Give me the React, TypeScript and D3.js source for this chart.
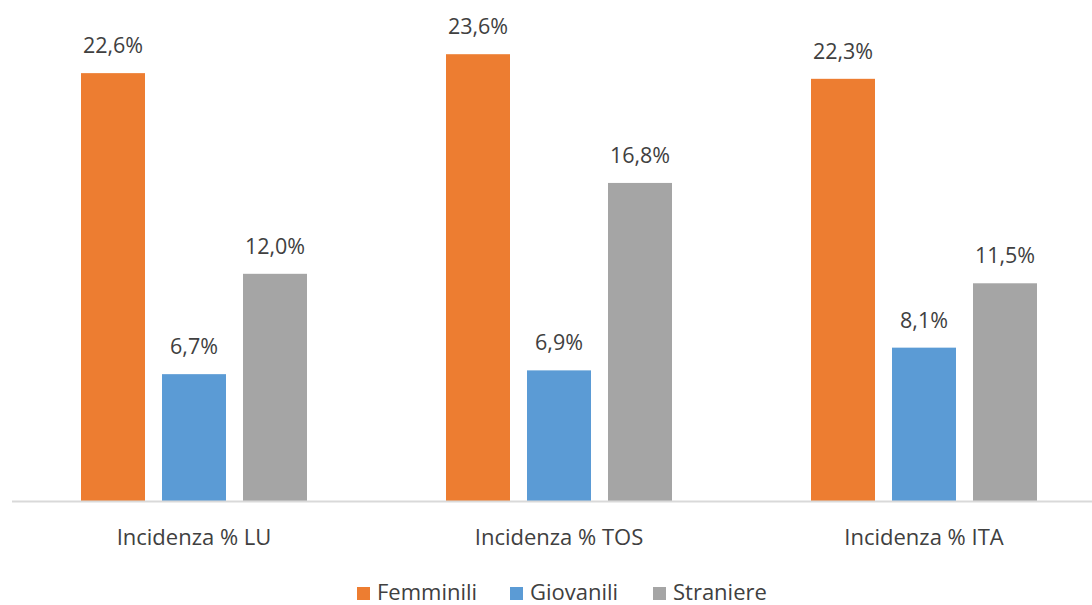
import React from "react";
import { scaleBand, scaleLinear } from "d3";

const categories = ["Incidenza % LU", "Incidenza % TOS", "Incidenza % ITA"];
const seriesNames = ["Femminili", "Giovanili", "Straniere"];
const femminili = [22.6, 23.6, 22.3];
const giovanili = [6.7, 6.9, 8.1];
const straniere = [12.0, 16.8, 11.5];
const colors = ["#ed7d31", "#5b9bd5", "#a5a5a5"];

const width = 1092;
const height = 605;
const font = "'Open Sans', 'Noto Sans', sans-serif";

const App = () => {
  const series = [femminili, giovanili, straniere];

  const xScale = scaleBand<string>()
    .domain(categories)
    .range([11.5, 11.5 + 365 * 3]);

  // 3 bars of 64px with 17px gaps
  const inner = scaleBand<string>()
    .domain(seriesNames)
    .range([69.5, 69.5 + 226])
    .paddingInner(17 / 81)
    .paddingOuter(0);

  const yScale = scaleLinear().domain([0, 25]).range([501, 27.7]);

  const legendX = [357, 510, 653];

  return (
    <svg
      width={width}
      height={height}
      style={{ position: "absolute", left: 0, top: 0, background: "#fff" }}
    >
      {categories.map((c, ci) => (
        <g key={c} transform={`translate(${xScale(c)},0)`}>
          {series.map((vals, si) => {
            const x = inner(seriesNames[si]) as number;
            const y = yScale(vals[ci]);
            return (
              <g key={si}>
                <rect
                  x={x}
                  y={y}
                  width={inner.bandwidth()}
                  height={yScale(0) - y}
                  fill={colors[si]}
                />
                <text
                  x={x + inner.bandwidth() / 2}
                  y={y - 20}
                  textAnchor="middle"
                  fontFamily={font}
                  fontSize={21.5}
                  fill="#404040"
                >
                  {vals[ci].toFixed(1).replace(".", ",")}%
                </text>
              </g>
            );
          })}
          <text
            x={xScale.bandwidth() / 2}
            y={545}
            textAnchor="middle"
            fontFamily={font}
            fontSize={22}
            fill="#404040"
          >
            {c}
          </text>
        </g>
      ))}
      <line x1={12} x2={1092} y1={501.5} y2={501.5} stroke="#d9d9d9" strokeWidth={2} />
      {seriesNames.map((s, i) => (
        <g key={s}>
          <rect x={legendX[i]} y={587} width={13} height={13} fill={colors[i]} />
          <text
            x={legendX[i] + 20}
            y={600}
            fontFamily={font}
            fontSize={22}
            fill="#404040"
          >
            {s}
          </text>
        </g>
      ))}
    </svg>
  );
};

export default App;
